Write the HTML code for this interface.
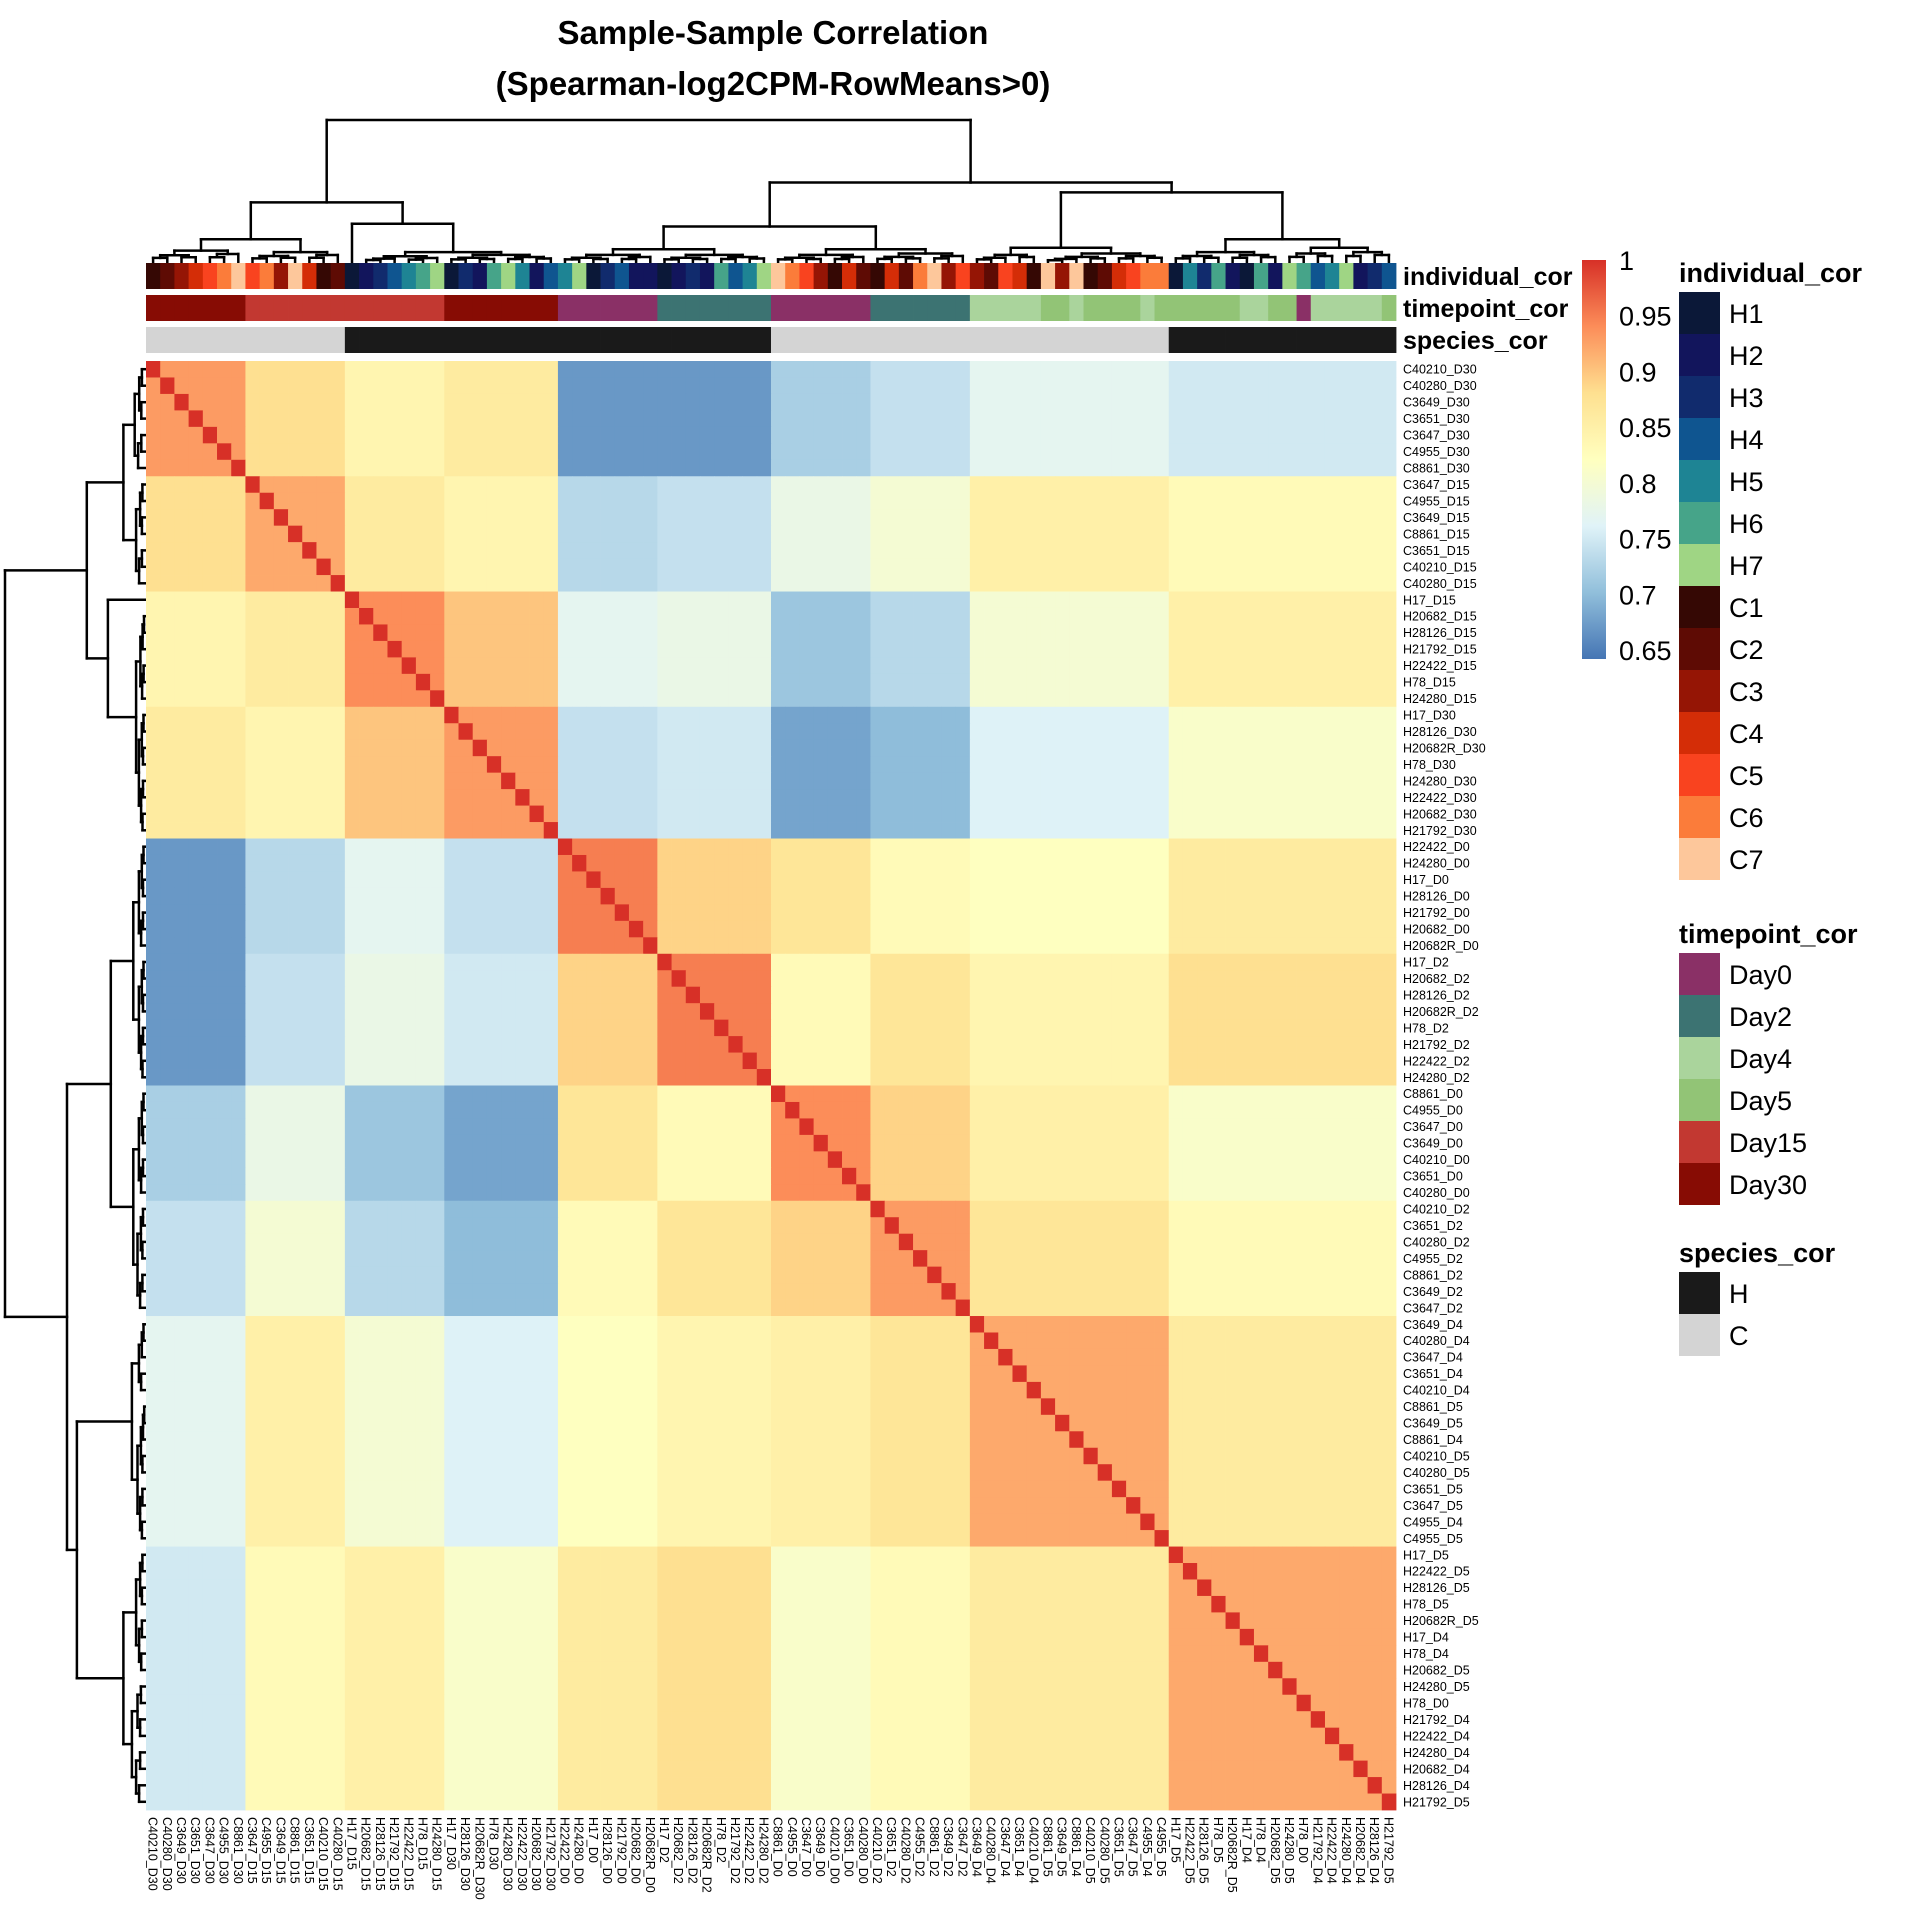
<!DOCTYPE html>
<html><head><meta charset="utf-8">
<style>
html,body{margin:0;padding:0;background:#fff;}
svg{display:block;font-family:"Liberation Sans",Arial,sans-serif;}
</style></head>
<body>
<svg id="chart" width="1920" height="1920" viewBox="0 0 1920 1920" xmlns="http://www.w3.org/2000/svg">
<text x="773" y="44" text-anchor="middle" font-size="33" font-weight="bold">Sample-Sample Correlation</text>
<text x="773" y="95" text-anchor="middle" font-size="33" font-weight="bold">(Spearman-log2CPM-RowMeans&gt;0)</text>
<g id="dendro-top"></g>
<g id="dendro-left"></g>
<g id="annot"></g>
<g id="cells"></g>
<g id="rowlabels"></g>
<g id="collabels"></g>
<g id="annotnames"></g>
<g id="colorbar"></g>
<g id="legends"></g>
</svg>
<script>
// ---------- data ----------
const samples = ["C40210_D30","C40280_D30","C3649_D30","C3651_D30","C3647_D30","C4955_D30","C8861_D30",
"C3647_D15","C4955_D15","C3649_D15","C8861_D15","C3651_D15","C40210_D15","C40280_D15",
"H17_D15","H20682_D15","H28126_D15","H21792_D15","H22422_D15","H78_D15","H24280_D15",
"H17_D30","H28126_D30","H20682R_D30","H78_D30","H24280_D30","H22422_D30","H20682_D30","H21792_D30",
"H22422_D0","H24280_D0","H17_D0","H28126_D0","H21792_D0","H20682_D0","H20682R_D0",
"H17_D2","H20682_D2","H28126_D2","H20682R_D2","H78_D2","H21792_D2","H22422_D2","H24280_D2",
"C8861_D0","C4955_D0","C3647_D0","C3649_D0","C40210_D0","C3651_D0","C40280_D0",
"C40210_D2","C3651_D2","C40280_D2","C4955_D2","C8861_D2","C3649_D2","C3647_D2",
"C3649_D4","C40280_D4","C3647_D4","C3651_D4","C40210_D4","C8861_D5","C3649_D5","C8861_D4","C40210_D5","C40280_D5","C3651_D5","C3647_D5","C4955_D4","C4955_D5",
"H17_D5","H22422_D5","H28126_D5","H78_D5","H20682R_D5","H17_D4","H78_D4","H20682_D5","H24280_D5","H78_D0","H21792_D4","H22422_D4","H24280_D4","H20682_D4","H28126_D4","H21792_D5"];
const groupSizes = [7,7,7,8,7,8,7,7,14,16];
// block mean correlations, groups G1..G10
const blockCor = [
 [0.93,0.88,0.84,0.86,0.67,0.67,0.72,0.74,0.77,0.75],
 [0.88,0.92,0.86,0.84,0.73,0.74,0.78,0.80,0.85,0.83],
 [0.84,0.86,0.94,0.90,0.77,0.78,0.71,0.73,0.80,0.85],
 [0.86,0.84,0.90,0.93,0.74,0.75,0.68,0.70,0.76,0.81],
 [0.67,0.73,0.77,0.74,0.95,0.89,0.87,0.83,0.82,0.86],
 [0.67,0.74,0.78,0.75,0.89,0.95,0.83,0.87,0.84,0.88],
 [0.72,0.78,0.71,0.68,0.87,0.83,0.94,0.89,0.85,0.81],
 [0.74,0.80,0.73,0.70,0.83,0.87,0.89,0.93,0.87,0.83],
 [0.77,0.85,0.80,0.76,0.82,0.84,0.85,0.87,0.92,0.86],
 [0.75,0.83,0.85,0.81,0.86,0.88,0.81,0.83,0.86,0.92]];
const legendTicks = [1,0.95,0.9,0.85,0.8,0.75,0.7,0.65];
const individualLevels = ["H1","H2","H3","H4","H5","H6","H7","C1","C2","C3","C4","C5","C6","C7"];
const individualColors = ["#0b1838","#12155c","#112b6d","#0f5590","#1e8494","#46a489","#9fd584","#350804","#5e0b04","#951505","#d42d07","#f9431f","#fb7c3a","#fdc79b"];
const individualMap = {H17:"H1",H20682:"H2",H20682R:"H2",H28126:"H3",H21792:"H4",H22422:"H5",H78:"H6",H24280:"H7",
  C40210:"C1",C40280:"C2",C3649:"C3",C3651:"C4",C3647:"C5",C4955:"C6",C8861:"C7"};
const timepointLevels = ["Day0","Day2","Day4","Day5","Day15","Day30"];
const timepointColors = ["#8a3066","#3c7372","#aad49c","#92c476","#c23831","#870c04"];
const speciesLevels = ["H","C"];
const speciesColors = ["#1a1a1a","#d4d4d4"];
// dendrogram: [height, left, right]; leaf = [startIdx,endIdx,height]
const tree = [1.0,
  [0.42,
    [0.16, [0,6,0.08], [7,13,0.07]],
    [0.27, [14,14,0], [0.07, [15,20,0.04], [21,28,0.05]]]],
  [0.56,
    [0.25, [0.09,[29,35,0.05],[36,43,0.05]], [0.09,[44,50,0.05],[51,57,0.06]]],
    [0.49, [0.10,[58,62,0.05],[63,71,0.06]], [0.16,[72,79,0.07],[80,87,0.10]]]]];

// ---------- layout ----------
const NS="http://www.w3.org/2000/svg";
const X0=146, X1=1396, Y0=361, Y1=1810, N=samples.length;
const cw=(X1-X0)/N, ch=(Y1-Y0)/N;
function mk(tag,attrs,parent){const e=document.createElementNS(NS,tag);for(const k in attrs)e.setAttribute(k,attrs[k]);parent.appendChild(e);return e;}
const pal=["#4575B4","#91BFDB","#E0F3F8","#FFFFBF","#FEE090","#FC8D59","#D73027"];
const vmin=0.642,vmax=1.0;
function hex(h){return [1,3,5].map(i=>parseInt(h.substr(i,2),16));}
function color(v){let t=(v-vmin)/(vmax-vmin);t=Math.max(0,Math.min(1,t))*(pal.length-1);const i=Math.min(pal.length-2,Math.floor(t));const f=t-i;const a=hex(pal[i]),b=hex(pal[i+1]);return "rgb("+a.map((x,k)=>Math.round(x+(b[k]-x)*f)).join(",")+")";}
const groupOf=[];groupSizes.forEach((s,g)=>{for(let i=0;i<s;i++)groupOf.push(g);});
function xOf(j){return X0+j*cw;} function yOf(i){return Y0+i*ch;}

// cells
const cells=document.getElementById('cells');
for(let i=0;i<N;i++)for(let j=0;j<N;j++){
  const v=(i===j)?1:blockCor[groupOf[i]][groupOf[j]];
  const r=mk('rect',{x:xOf(j).toFixed(2),y:yOf(i).toFixed(2),width:(cw+0.4).toFixed(2),height:(ch+0.4).toFixed(2),fill:color(v)},cells);
  
  
}
// annotations
const annot=document.getElementById('annot');
const rowsY=[[263,289],[295,321],[327,353]];
samples.forEach((s,j)=>{
  const [ind,tp]=s.split('_');
  const indC=individualColors[individualLevels.indexOf(individualMap[ind])];
  const tpC=timepointColors[timepointLevels.indexOf("Day"+tp.substr(1))];
  const spC=speciesColors[speciesLevels.indexOf(s[0])];
  [indC,tpC,spC].forEach((c,k)=>{
    const r=mk('rect',{x:xOf(j).toFixed(2),y:rowsY[k][0],width:(cw+0.4).toFixed(2),height:rowsY[k][1]-rowsY[k][0],fill:c},annot);
    
    
  });
});
// labels
const rl=document.getElementById('rowlabels'), cl=document.getElementById('collabels');
samples.forEach((s,i)=>{
  const t=mk('text',{x:1403,y:(yOf(i)+ch/2+4.5).toFixed(1),'font-size':12.5},rl);t.textContent=s;
  
  
  const cx=xOf(i)+cw/2-4.5, cy=Y1+7;
  const c=mk('text',{x:cx.toFixed(1),y:cy,'font-size':12.5,transform:`rotate(90 ${cx.toFixed(1)} ${cy})`},cl);c.textContent=s;
  
  
});
const an=document.getElementById('annotnames');
["individual_cor","timepoint_cor","species_cor"].forEach((s,k)=>{
  const t=mk('text',{x:1403,y:(rowsY[k][0]+rowsY[k][1])/2+9,'font-size':25,'font-weight':'bold'},an);t.textContent=s;
  
  
});
// dendrograms
const dt=document.getElementById('dendro-top'), dl=document.getElementById('dendro-left');
const LEAF_T=262, SCALE_T=142, LEAF_L=146, SCALE_L=141;
function seg(p1,h1,p2,h2){
  let l=mk('line',{x1:p1.toFixed(1),y1:(LEAF_T-h1*SCALE_T).toFixed(1),x2:p2.toFixed(1),y2:(LEAF_T-h2*SCALE_T).toFixed(1),stroke:'#000','stroke-width':2.5,'stroke-linecap':'square'},dt);
  
  
}
function segL(p1,h1,p2,h2){
  let l=mk('line',{y1:p1.toFixed(1),x1:(LEAF_L-h1*SCALE_L).toFixed(1),y2:p2.toFixed(1),x2:(LEAF_L-h2*SCALE_L).toFixed(1),stroke:'#000','stroke-width':2.5,'stroke-linecap':'square'},dl);
  
  
}
function join(a,b,h){
  seg(a.t,a.h,a.t,h); seg(b.t,b.h,b.t,h); seg(a.t,h,b.t,h);
  segL(a.l,a.h,a.l,h); segL(b.l,b.h,b.l,h); segL(a.l,h,b.l,h);
  return {t:(a.t+b.t)/2,l:(a.l+b.l)/2,h:h};
}
function rangeNode(s,e,h){
  if(s===e) return {t:xOf(s)+cw/2,l:yOf(s)+ch/2,h:0};
  const m=Math.floor((s+e)/2);
  return join(rangeNode(s,m,h*0.6),rangeNode(m+1,e,h*0.7),h);
}
function build(n){
  if(n.length===3 && Array.isArray(n[1])) return join(build(n[1]),build(n[2]),n[0]);
  return rangeNode(n[0],n[1],n[2]);
}
const root=build(tree);
// color bar
const cb=document.getElementById('colorbar');
const defs=mk('defs',{},cb);
const lg=mk('linearGradient',{id:'cbg',x1:0,y1:1,x2:0,y2:0},defs);
pal.forEach((c,i)=>mk('stop',{offset:(i/(pal.length-1)),'stop-color':c},lg));
const cbr=mk('rect',{x:1582,y:260,width:24,height:399,fill:'url(#cbg)'},cb);


function cbY(v){return 659-(v-vmin)/(vmax-vmin)*399;}
legendTicks.forEach(v=>{
  const t=mk('text',{x:1619,y:(cbY(v)+10).toFixed(1),'font-size':27},cb);t.textContent=String(v);
  
  
});
// legends
const lgG=document.getElementById('legends');
function legend(title,levels,colors,titleY){
  const t=mk('text',{x:1679,y:titleY,'font-size':27,'font-weight':'bold'},lgG);t.textContent=title;
  
  
  levels.forEach((lv,i)=>{
    const y=titleY+10+i*42;
    const r=mk('rect',{x:1679,y:y,width:41,height:42,fill:colors[i]},lgG);
    
    
    const tx=mk('text',{x:1729,y:y+31,'font-size':27},lgG);tx.textContent=lv;
    
    
  });
}
legend("individual_cor",individualLevels,individualColors,282);
legend("timepoint_cor",timepointLevels,timepointColors,943);
legend("species_cor",speciesLevels,speciesColors,1262);
</script>
</body></html>
